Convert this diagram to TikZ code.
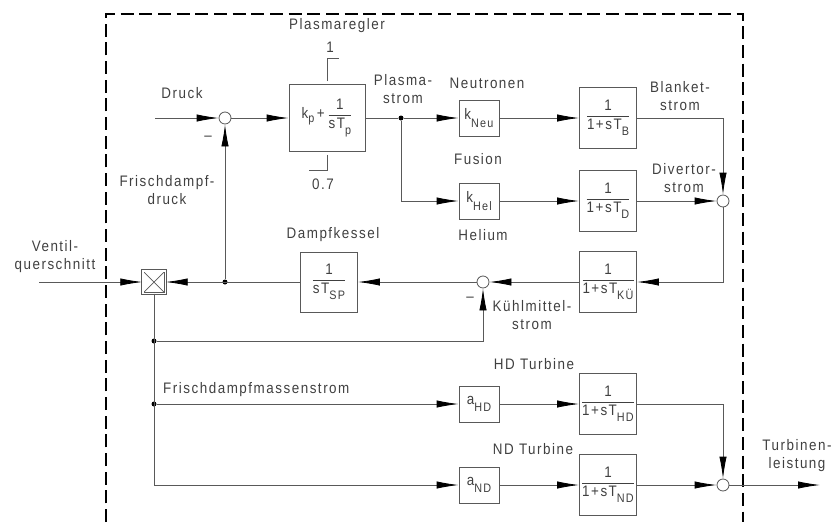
\documentclass[tikz,border=0pt]{standalone}
\usepackage{amsmath}
\usepackage{fontspec}
\setmainfont{Liberation Sans}[LetterSpace=10, FakeStretch=0.88]
\usetikzlibrary{arrows.meta,positioning}

\newcommand{\sbs}[2][0.18cm]{\raisebox{-#1}{\fontsize{10.5}{12}\selectfont #2}}
\newcommand{\lagfrac}[1]{$\dfrac{\text{1}}{\text{1+sT\sbs{#1}}}$}

\tikzset{
  blk/.style={draw=black!65, line width=0.7pt, fill=white, inner sep=1pt},
  gain/.style={blk, minimum width=1.2cm, minimum height=1.08cm},
  lag/.style={blk, minimum width=1.71cm, minimum height=1.83cm},
  sumpt/.style={circle, draw=black!65, line width=0.7pt, fill=white, minimum size=0.36cm, inner sep=0pt},
  junction/.style={circle, fill=black, minimum size=0.15cm, inner sep=0pt},
  valve/.style={draw=black!65, line width=0.6pt, double, double distance=0.05cm, fill=white,
    minimum size=0.68cm, inner sep=0pt,
    path picture={\draw[black!65, line width=0.6pt]
      (path picture bounding box.north west) -- (path picture bounding box.south east)
      (path picture bounding box.south west) -- (path picture bounding box.north east);}},
  lbl/.style={align=center, inner sep=0pt, text=black!75},
  conn/.style={draw=black!65, line width=0.7pt, -{Latex[length=0.66cm,width=0.22cm,color=black]}},
  wire/.style={draw=black!65, line width=0.7pt},
}

\begin{document}
\begin{tikzpicture}[x=0.03cm, y=-0.03cm,
  every node/.style={font=\fontsize{13}{15.4}\selectfont, text=black!75}]
\useasboundingbox (0,0) rectangle (837,522);

% System boundary
\draw[black, line width=2.4pt, dash pattern=on 0.39cm off 0.17cm]
  (106,522) -- (106,14) -- (743,14) -- (743,522);

% Plasma control loop
\coordinate (druckin) at (155,118);
\node[sumpt] (sum1) at (225,118) {};
\node[blk, minimum width=2.28cm, minimum height=2.01cm] (preg) at (327,118)
  {k\sbs[0.12cm]{p}\,+\,$\dfrac{\text{1}}{\text{sT\sbs{p}}}$};
\node[junction] (jp) at (401,118) {};
\draw[wire] ([yshift=0.09cm]preg.north) -- ++(0,-23) -- ++(12,0);
\draw[wire] ([yshift=-0.09cm]preg.south) -- ++(0,15) -- ++(-18,0);

% Neutron and helium paths
\node[gain] (kneu) at (479,118) {k\sbs[0.24cm]{Neu}};
\node[lag] (tb) at (608,118) {\lagfrac{B}};
\node[gain] (khel) at (479,201) {k\sbs[0.24cm]{Hel}};
\node[lag] (td) at (608,201) {\lagfrac{D}};
\node[sumpt] (sum2) at (723,201) {};

% Coolant and steam generator
\node[lag] (tku) at (608,282) {\lagfrac{KÜ}};
\node[sumpt] (sum3) at (483,282) {};
\node[blk, minimum width=1.71cm, minimum height=1.8cm] (dk) at (329,282) {$\dfrac{\text{1}}{\text{sT\sbs{SP}}}$};
\node[junction] (jd) at (225,282) {};
\node[valve] (valve) at (154,282) {};
\coordinate (ventin) at (39,282);
\node[junction] (j1) at (154,341) {};
\node[junction] (j2) at (154,404) {};

% Turbines
\node[gain] (ahd) at (479,404) {a\sbs[0.2cm]{HD}};
\node[lag] (thd) at (608,404) {\lagfrac{HD}};
\node[gain] (and) at (479,485) {a\sbs[0.2cm]{ND}};
\node[lag] (tnd) at (608,485) {\lagfrac{ND}};
\node[sumpt] (sum4) at (723,485) {};
\coordinate (out) at (820,485);

% Labels
\node[lbl] (lplr) at (337,26) {Plasmaregler};
\node[lbl] (lmax) at (330,47) {1};
\node[lbl] (lmin) at (323,184) {0.7};
\node[lbl] (ldruck) at (182,93) {Druck};
\node[lbl] (lneg1) at (208,138) {–};
\node[lbl] (lfdd) at (167,190) {Frischdampf-\\druck};
\node[lbl] (lpls) at (403,89) {Plasma-\\strom};
\node[lbl] (lneu) at (487,83) {Neutronen};
\node[lbl] (lblk) at (680,96) {Blanket-\\strom};
\node[lbl] (lfus) at (478,159) {Fusion};
\node[lbl] (ldiv) at (684,178) {Divertor-\\strom};
\node[lbl] (lhel) at (483,235) {Helium};
\node[lbl] (ldk) at (333,235) {Dampfkessel};
\node[lbl] (lvent) at (55,257) {Ventil-\\querschnitt};
\node[lbl] (lneg2) at (470,299) {–};
\node[lbl] (lkm) at (532,315) {Kühlmittel-\\strom};
\node[lbl, anchor=west] (lfdm) at (163,390) {Frischdampfmassenstrom};
\node[lbl] (lhd) at (534,364) {HD Turbine};
\node[lbl] (lnd) at (533,449) {ND Turbine};
\node[lbl] (lturb) at (797,456) {Turbinen-\\leistung};

% Connections
\draw[conn] (druckin) -- (sum1);
\draw[conn] (sum1) -- (preg);
\draw[wire] (preg) -- (jp);
\draw[conn] (jp) -- (kneu);
\draw[conn] (jp) |- (khel);
\draw[conn] (kneu) -- (tb);
\draw[conn] (khel) -- (td);
\draw[conn] (tb.east) -| (sum2.north);
\draw[conn] (td) -- (sum2);
\draw[conn] (sum2.south) |- (tku.east);
\draw[conn] (tku) -- (sum3);
\draw[conn] (sum3) -- (dk);
\draw[conn] (dk) -- (valve);
\draw[conn] (jd) -- (sum1);
\draw[conn] (ventin) -- (valve);
\draw[conn] (j1) -| (sum3.south);
\draw[conn] (j2) -- (ahd);
\draw[conn] (valve.south) |- (and);
\draw[conn] (ahd) -- (thd);
\draw[conn] (and) -- (tnd);
\draw[conn] (thd.east) -| (sum4.north);
\draw[conn] (tnd) -- (sum4);
\draw[conn] (sum4) -- (out);
\end{tikzpicture}
\end{document}
